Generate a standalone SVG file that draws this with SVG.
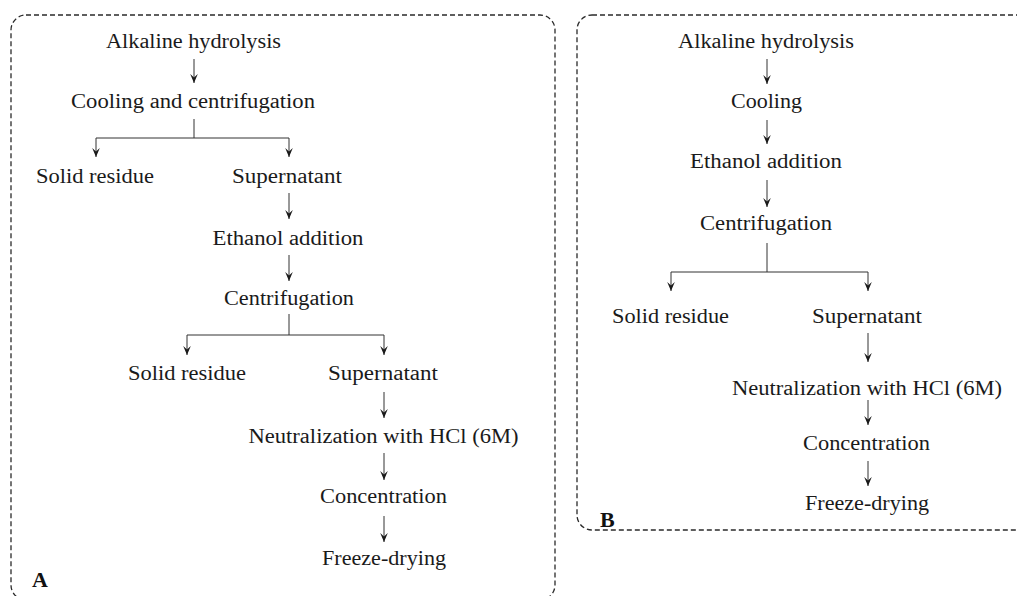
<svg xmlns="http://www.w3.org/2000/svg" width="1017" height="596" viewBox="0 0 1017 596">
<style>
.t{font-family:"Liberation Serif","Times New Roman",serif;font-size:20px;fill:#1a1a1a;text-anchor:middle}
.lbl{font-family:"Liberation Serif","Times New Roman",serif;font-size:22px;font-weight:bold;fill:#111}
.box{fill:none;stroke:#2a2a2a;stroke-width:1.3;stroke-dasharray:5 3}
.c{fill:none;stroke:#333;stroke-width:1}
.a{fill:none;stroke:#333;stroke-width:1;marker-end:url(#ah)}
</style>
<defs>
<marker id="ah" markerUnits="userSpaceOnUse" markerWidth="12" markerHeight="10" viewBox="-10 -5 12 10" refX="0" refY="0" orient="auto">
<path d="M0,0 L-9,-3.8 L-5.5,0 L-9,3.8 Z" fill="#1a1a1a"/>
</marker>
</defs>
<rect class="box" x="11" y="15" width="544" height="585" rx="15"/>
<rect class="box" x="577" y="15" width="460" height="515" rx="15"/>
<g id="connectors">
<line class="a" x1="194" y1="59" x2="194" y2="83"/>
<polyline class="c" points="194,119 194,138"/>
<polyline class="a" points="194,138 96,138 96,157"/>
<polyline class="a" points="194,138 289,138 289,157"/>
<line class="a" x1="289" y1="193" x2="289" y2="219"/>
<line class="a" x1="289" y1="255" x2="289" y2="281"/>
<polyline class="c" points="289,314 289,335"/>
<polyline class="a" points="289,335 187,335 187,355"/>
<polyline class="a" points="289,335 384,335 384,355"/>
<line class="a" x1="384" y1="392" x2="384" y2="418"/>
<line class="a" x1="384" y1="453" x2="384" y2="480"/>
<line class="a" x1="384" y1="516" x2="384" y2="542"/>
<line class="a" x1="767" y1="59" x2="767" y2="84"/>
<line class="a" x1="767" y1="120" x2="767" y2="144"/>
<line class="a" x1="767" y1="180" x2="767" y2="207"/>
<polyline class="c" points="767,243 767,272"/>
<polyline class="a" points="767,272 671,272 671,291"/>
<polyline class="a" points="767,272 868,272 868,291"/>
<line class="a" x1="868" y1="333" x2="868" y2="362"/>
<line class="a" x1="868" y1="400" x2="868" y2="425"/>
<line class="a" x1="868" y1="461" x2="868" y2="486"/>
</g>
<g id="A-alkaline"><text class="t" x="193.5" y="48" textLength="175" lengthAdjust="spacingAndGlyphs">Alkaline hydrolysis</text></g>
<g id="A-cooling"><text class="t" x="193" y="108" textLength="244" lengthAdjust="spacingAndGlyphs">Cooling and centrifugation</text></g>
<g id="A-solid1"><text class="t" x="95" y="183" textLength="118" lengthAdjust="spacingAndGlyphs">Solid residue</text></g>
<g id="A-super1"><text class="t" x="287" y="183" textLength="110" lengthAdjust="spacingAndGlyphs">Supernatant</text></g>
<g id="A-ethanol"><text class="t" x="288" y="245" textLength="151" lengthAdjust="spacingAndGlyphs">Ethanol addition</text></g>
<g id="A-centrif"><text class="t" x="289" y="305" textLength="130" lengthAdjust="spacingAndGlyphs">Centrifugation</text></g>
<g id="A-solid2"><text class="t" x="187" y="380" textLength="118" lengthAdjust="spacingAndGlyphs">Solid residue</text></g>
<g id="A-super2"><text class="t" x="383" y="380" textLength="110" lengthAdjust="spacingAndGlyphs">Supernatant</text></g>
<g id="A-neutral"><text class="t" x="383.5" y="443" textLength="270" lengthAdjust="spacingAndGlyphs">Neutralization with HCl (6M)</text></g>
<g id="A-conc"><text class="t" x="383.5" y="503" textLength="127" lengthAdjust="spacingAndGlyphs">Concentration</text></g>
<g id="A-freeze"><text class="t" x="384" y="565" textLength="124" lengthAdjust="spacingAndGlyphs">Freeze-drying</text></g>
<g id="A-label"><text class="lbl" x="32" y="587">A</text></g>
<g id="B-alkaline"><text class="t" x="766" y="48" textLength="176" lengthAdjust="spacingAndGlyphs">Alkaline hydrolysis</text></g>
<g id="B-cooling"><text class="t" x="766.5" y="108" textLength="71" lengthAdjust="spacingAndGlyphs">Cooling</text></g>
<g id="B-ethanol"><text class="t" x="766" y="168" textLength="152" lengthAdjust="spacingAndGlyphs">Ethanol addition</text></g>
<g id="B-centrif"><text class="t" x="766" y="230" textLength="132" lengthAdjust="spacingAndGlyphs">Centrifugation</text></g>
<g id="B-solid"><text class="t" x="670.5" y="323" textLength="117" lengthAdjust="spacingAndGlyphs">Solid residue</text></g>
<g id="B-super"><text class="t" x="867" y="323" textLength="110" lengthAdjust="spacingAndGlyphs">Supernatant</text></g>
<g id="B-neutral"><text class="t" x="867" y="395" textLength="270" lengthAdjust="spacingAndGlyphs">Neutralization with HCl (6M)</text></g>
<g id="B-conc"><text class="t" x="866.5" y="450" textLength="127" lengthAdjust="spacingAndGlyphs">Concentration</text></g>
<g id="B-freeze"><text class="t" x="867" y="510" textLength="124" lengthAdjust="spacingAndGlyphs">Freeze-drying</text></g>
<g id="B-label"><text class="lbl" x="600" y="527">B</text></g>
</svg>
